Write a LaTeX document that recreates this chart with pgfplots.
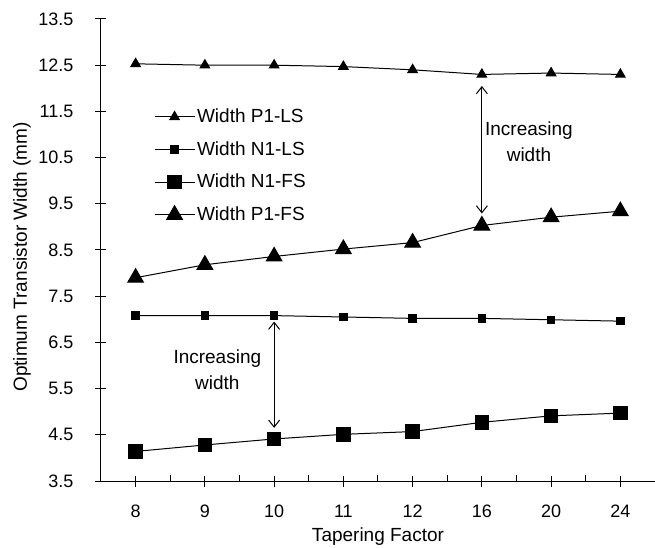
\documentclass[border=0pt]{standalone}
\usepackage{fontspec}
\setmainfont{Liberation Sans}
\usepackage{pgfplots}
\pgfplotsset{compat=1.18}
\usetikzlibrary{arrows.meta}
\begin{document}
\fontsize{19bp}{23bp}\selectfont
\begin{tikzpicture}
\begin{axis}[
  at={(0,0)}, anchor=south west,
  scale only axis, width=554bp, height=462bp,
  xmin=-0.5, xmax=7.5, ymin=3.5, ymax=13.5,
  axis lines*=left,
  axis line style={-, line width=1bp},
  xtick={0,1,2,3,4,5,6,7},
  xticklabels={8,9,10,11,12,16,20,24},
  extra x ticks={0.5,1.5,2.5,3.5,4.5,5.5,6.5},
  extra x tick labels={},
  extra x tick style={tick align=inside, major tick length=6bp},
  ytick={3.5,4.5,5.5,6.5,7.5,8.5,9.5,10.5,11.5,12.5,13.5},
  yticklabels={3.5,4.5,5.5,6.5,7.5,8.5,9.5,10.5,11.5,12.5,13.5},
  tick align=center, major tick length=11bp,
  tick style={line width=1bp, black},
  tick label style={font={\fontsize{18bp}{21bp}\selectfont}},
  yticklabel style={anchor=east, inner sep=0pt, xshift=-22bp},
  xticklabel style={anchor=center, yshift=-25bp},
  xlabel={Tapering Factor}, ylabel={Optimum Transistor Width (mm)},
  xlabel style={at={(axis description cs:0.5,-0.1212)}, anchor=center},
  ylabel style={at={(axis description cs:-0.1426,0.485)}, anchor=center},
  legend style={draw=none, fill=none, at={(axis description cs:0.09,0.815)}, anchor=north west, row sep=12bp, cells={anchor=west}, font={\fontsize{19bp}{23bp}\selectfont}},
  legend image code/.code={\draw[mark repeat=2,mark phase=2] plot coordinates {(0bp,0bp) (20bp,0bp) (40bp,0bp)};},
  clip=false,
]
\addplot[black, line width=1bp, mark=triangle*, mark size=5.5bp] coordinates {
 (0,12.53) (1,12.5) (2,12.5) (3,12.47) (4,12.4) (5,12.3) (6,12.33) (7,12.3)};
\addlegendentry{Width P1-LS}
\addplot[black, line width=1bp, mark=square*, mark size=3.7bp] coordinates {
 (0,7.08) (1,7.08) (2,7.08) (3,7.05) (4,7.02) (5,7.02) (6,6.99) (7,6.96)};
\addlegendentry{Width N1-LS}
\addplot[black, line width=1bp, mark=square*, mark size=6.8bp] coordinates {
 (0,4.14) (1,4.28) (2,4.41) (3,4.51) (4,4.57) (5,4.77) (6,4.91) (7,4.97)};
\addlegendentry{Width N1-FS}
\addplot[black, line width=1bp, mark=triangle*, mark size=9bp] coordinates {
 (0,7.9) (1,8.18) (2,8.36) (3,8.52) (4,8.66) (5,9.03) (6,9.21) (7,9.34)};
\addlegendentry{Width P1-FS}
\draw[{Straight Barb[length=7bp,width=11bp]}-{Straight Barb[length=7bp,width=11bp]}, line width=1bp] (axis cs:5,12.05) -- (axis cs:5,9.29);
\node[align=center, font={\fontsize{19bp}{26bp}\selectfont}] at (axis cs:5.68,10.85) {Increasing\\width};
\draw[{Straight Barb[length=7bp,width=11bp]}-{Straight Barb[length=7bp,width=11bp]}, line width=1bp] (axis cs:2,6.95) -- (axis cs:2,4.65);
\node[align=center, font={\fontsize{19bp}{26bp}\selectfont}] at (axis cs:1.18,5.9) {Increasing\\width};
\end{axis}
\pgfresetboundingbox
\path (-101bp,-67bp) rectangle (554bp,481bp);
\end{tikzpicture}
\end{document}
